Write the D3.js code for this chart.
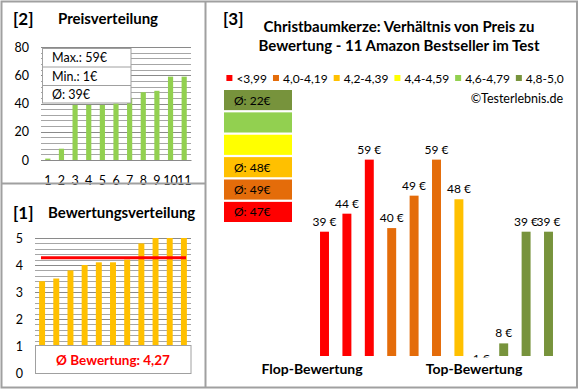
<!DOCTYPE html>
<html><head><meta charset="utf-8">
<script src="https://cdn.jsdelivr.net/npm/d3@7"></script>
<style>body{margin:0;background:#fff}svg{display:block;font-family:Lato,"Open Sans",sans-serif}</style>
</head><body>
<script>
// ---- data ----
const priceRanks = ["1","2","3","4","5","6","7","8","9","10","11"];
const pricesSorted = [1, 8, 39, 39, 39, 40, 44, 48, 49, 59, 59];
const priceTicks = [0, 20, 40, 60, 80];
const ratingsSorted = [3.4, 3.5, 3.8, 4.0, 4.1, 4.1, 4.2, 4.8, 5, 5, 5];
const ratingTicks = [0, 1, 2, 3, 4, 5];
const avgRating = 4.27;
const avgRatingLabel = "Ø Bewertung: 4,27";
const products = ["P1","P2","P3","P4","P5","P6","P7","P8","P9","P10","P11"];
const productPrices = [39, 44, 59, 40, 49, 59, 48, 1, 8, 39, 39];
const productGroup = [0, 0, 0, 1, 1, 1, 2, 5, 5, 5, 5];
const groupLabels = ["<3,99", "4,0-4,19", "4,2-4,39", "4,4-4,59", "4,6-4,79", "4,8-5,0"];
const groupColors = ["#FF0000", "#E46C0A", "#FFC000", "#FFFF00", "#92D050", "#77933C"];
const summaryLabels = ["Max.: 59€", "Min.: 1€", "Ø: 39€"];

const W = 580, H = 390;
const svg = d3.select("body").append("svg").attr("width", W).attr("height", H);
const grid = "#a6a6a6", gridMajor = "#8a8a8a", border = "#a0a0a0";

// ---- panel 2: Preisverteilung ----
{
  const x = d3.scaleBand().domain(priceRanks).range([41, 191]).paddingInner(0.62).paddingOuter(0.31);
  const y = d3.scaleLinear().domain([0, 80]).range([160, 47]);
  const g = svg.append("g");
  g.selectAll("line.minor").data(d3.range(0, 81, 4)).join("line")
    .attr("x1", 41).attr("x2", 191).attr("y1", d => Math.round(y(d)) + 0.5).attr("y2", d => Math.round(y(d)) + 0.5)
    .attr("stroke", d => d % 20 === 0 ? gridMajor : grid).attr("stroke-width", 1);
  g.selectAll("rect").data(pricesSorted).join("rect")
    .attr("x", (d, i) => x(priceRanks[i])).attr("width", x.bandwidth())
    .attr("y", d => y(d)).attr("height", d => y(0) - y(d)).attr("fill", "#92D050");
  const ya = d3.axisLeft(y).tickValues(priceTicks).tickSize(0).tickPadding(12);
  const ay = g.append("g").attr("transform", "translate(41,0)").call(ya);
  ay.select(".domain").remove();
  ay.selectAll("text").attr("font-size", 12.5).attr("fill", "#000").attr("font-family", "Lato");
  const xa = d3.axisBottom(x).tickSize(0).tickPadding(16);
  const ax = g.append("g").attr("transform", "translate(0,160)").call(xa);
  ax.select(".domain").attr("stroke", gridMajor);
  ax.selectAll("text").attr("font-size", 12.5).attr("fill", "#000").attr("font-family", "Lato");
  // summary box
  const bx = 42.5, by = 48.5, bw = 88.5, rows = [48.5, 67, 85.5, 103];
  g.append("rect").attr("x", bx).attr("y", by).attr("width", bw).attr("height", rows[3] - by)
    .attr("fill", "#fff").attr("stroke", border);
  g.selectAll("line.sep").data([rows[1], rows[2]]).join("line")
    .attr("x1", bx).attr("x2", bx + bw).attr("y1", d => d).attr("y2", d => d).attr("stroke", border);
  g.selectAll("text.sum").data(summaryLabels).join("text")
    .attr("x", 52).attr("y", (d, i) => (rows[i] + rows[i + 1]) / 2 + 4.5)
    .attr("font-size", 12.5).text(d => d);
  svg.append("text").attr("x", 13).attr("y", 25).attr("font-size", 17).attr("font-weight", "bold").text("[2]");
  svg.append("text").attr("x", 58).attr("y", 24).attr("font-size", 15).attr("font-weight", "bold").text("Preisverteilung");
}

// ---- panel 1: Bewertungsverteilung ----
{
  const x = d3.scaleBand().domain(priceRanks).range([35, 191]).paddingInner(0.58).paddingOuter(0.29);
  const y = d3.scaleLinear().domain([0, 5]).range([373, 238]);
  const g = svg.append("g");
  g.selectAll("line.minor").data(d3.range(0, 26).map(d => d / 5)).join("line")
    .attr("x1", 35).attr("x2", 191).attr("y1", d => Math.round(y(d)) + 0.5).attr("y2", d => Math.round(y(d)) + 0.5)
    .attr("stroke", d => Math.abs(d - Math.round(d)) < 1e-9 ? gridMajor : grid);
  g.selectAll("rect").data(ratingsSorted).join("rect")
    .attr("x", (d, i) => x(priceRanks[i])).attr("width", x.bandwidth())
    .attr("y", d => y(d)).attr("height", d => y(0) - y(d)).attr("fill", "#FFC000");
  g.append("line").attr("x1", 41).attr("x2", 186).attr("y1", y(avgRating)).attr("y2", y(avgRating))
    .attr("stroke", "#FF0000").attr("stroke-width", 3);
  const ya = d3.axisLeft(y).tickValues(ratingTicks).tickFormat(d3.format("d")).tickSize(0).tickPadding(12);
  const ay = g.append("g").attr("transform", "translate(35,0)").call(ya);
  ay.select(".domain").remove();
  ay.selectAll("text").attr("font-size", 12.5).attr("fill", "#000").attr("font-family", "Lato");
  g.append("rect").attr("x", 35.5).attr("y", 345.5).attr("width", 155.5).attr("height", 28)
    .attr("fill", "#fff").attr("stroke", border);
  g.append("text").attr("x", 113).attr("y", 364.5).attr("text-anchor", "middle")
    .attr("font-size", 13.5).attr("font-weight", "bold").attr("fill", "#FF0000").text(avgRatingLabel);
  svg.append("text").attr("x", 13).attr("y", 219).attr("font-size", 17).attr("font-weight", "bold").text("[1]");
  svg.append("text").attr("x", 48).attr("y", 218).attr("font-size", 15).attr("font-weight", "bold").text("Bewertungsverteilung");
}

// ---- panel 3 ----
{
  const g = svg.append("g");
  g.append("text").attr("x", 223).attr("y", 25).attr("font-size", 17).attr("font-weight", "bold").text("[3]");
  g.append("text").attr("x", 399).attr("y", 32).attr("text-anchor", "middle").attr("font-size", 15).attr("font-weight", "bold")
    .text("Christbaumkerze: Verhältnis von Preis zu");
  g.append("text").attr("x", 399).attr("y", 51).attr("text-anchor", "middle").attr("font-size", 15).attr("font-weight", "bold")
    .text("Bewertung - 11 Amazon Bestseller im Test");
  // legend
  const lg = g.append("g");
  let cx = 0;
  groupLabels.forEach((lab, i) => {
    const it = lg.append("g").attr("transform", `translate(${cx},0)`);
    it.append("rect").attr("x", 0).attr("y", -8).attr("width", 6).attr("height", 6).attr("fill", groupColors[i]);
    const t = it.append("text").attr("x", 10).attr("y", 0).attr("font-size", 12).text(lab);
    cx += 10 + t.node().getComputedTextLength() + 6;
  });
  const lw = cx - 6;
  lg.attr("transform", `translate(${395 - lw / 2},83)`);
  g.append("text").attr("x", 563).attr("y", 103).attr("text-anchor", "end").attr("font-size", 12.5).text("©Testerlebnis.de");
  // group average boxes (top: best group)
  const order = [5, 4, 3, 2, 1, 0];
  const boxY = d3.scaleBand().domain(order).range([90, 222]).paddingInner(0.1);
  order.forEach(k => {
    const vals = productPrices.filter((p, i) => productGroup[i] === k);
    g.append("rect").attr("x", 224).attr("y", boxY(k)).attr("width", 68).attr("height", boxY.bandwidth()).attr("fill", groupColors[k]);
    if (vals.length) g.append("text").attr("x", 234).attr("y", boxY(k) + boxY.bandwidth() / 2 + 4.5)
      .attr("font-size", 12).text("Ø: " + Math.round(d3.mean(vals)) + "€");
  });
  // bars
  const x = d3.scaleBand().domain(products).range([313.3, 559.7]).paddingInner(0.6).paddingOuter(0.3);
  const y = d3.scaleLinear().domain([4.5, 70]).range([356, 120]);
  const clip = svg.append("clipPath").attr("id", "pc");
  clip.append("rect").attr("x", 210).attr("y", 60).attr("width", 365).attr("height", 297.5);
  const pg = g.append("g").attr("clip-path", "url(#pc)");
  pg.selectAll("rect").data(productPrices).join("rect")
    .attr("x", (d, i) => x(products[i])).attr("width", x.bandwidth())
    .attr("y", d => Math.min(y(d), 356)).attr("height", d => Math.max(0, 356 - y(d)))
    .attr("fill", (d, i) => groupColors[productGroup[i]]);
  pg.selectAll("text").data(productPrices).join("text")
    .attr("x", (d, i) => x(products[i]) + x.bandwidth() / 2).attr("y", d => y(d) - 6)
    .attr("text-anchor", "middle").attr("font-size", 12).text(d => d + " €");
  g.append("text").attr("x", 312).attr("y", 374).attr("text-anchor", "middle").attr("font-size", 14).attr("font-weight", "bold").text("Flop-Bewertung");
  g.append("text").attr("x", 474).attr("y", 374).attr("text-anchor", "middle").attr("font-size", 14).attr("font-weight", "bold").text("Top-Bewertung");
}

// ---- borders ----
svg.append("rect").attr("x", 1.5).attr("y", 1.5).attr("width", 575.5).attr("height", 386).attr("fill", "none").attr("stroke", border).attr("stroke-width", 2);
svg.append("line").attr("x1", 205.5).attr("x2", 205.5).attr("y1", 1.5).attr("y2", 387.5).attr("stroke", border).attr("stroke-width", 2);
svg.append("line").attr("x1", 1.5).attr("x2", 205.5).attr("y1", 183.5).attr("y2", 183.5).attr("stroke", border).attr("stroke-width", 2);
</script>
</body></html>
